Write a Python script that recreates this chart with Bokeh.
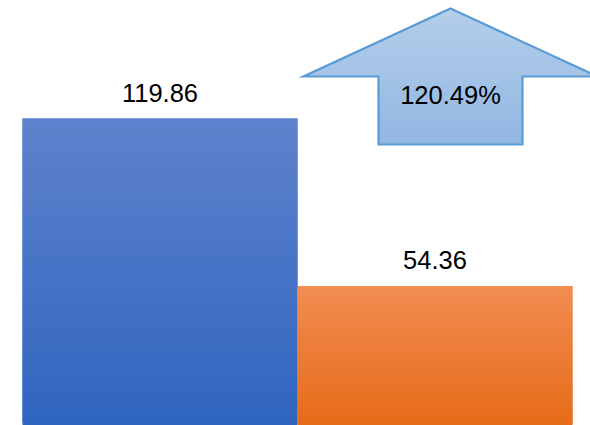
import numpy as np
from bokeh.plotting import figure
from bokeh.models import Range1d
from bokeh.embed import file_html
from bokeh.resources import INLINE
from bokeh.core.properties import value

# ---- data ----
categories = ["Before", "After"]
values = [119.86, 54.36]
value_labels = ["119.86", "54.36"]
change_label = "120.49%"

# ---- style ----
W, H = 590, 425
PX_X = 275.0                 # pixels per category unit
X_START = -159.5 / PX_X
PX_Y = 307.0 / 119.86
Y_MAX = H / PX_Y

bar_top_colors = [(94, 130, 204), (242, 140, 82)]
bar_bot_colors = [(47, 101, 191), (230, 107, 24)]
arrow_top = (180, 206, 235)
arrow_bot = (146, 183, 226)
arrow_line = "#5b9bd5"


def hexc(c):
    return "#%02x%02x%02x" % tuple(int(round(v)) for v in c)


def lerp(a, b, t):
    return tuple(a[i] + (b[i] - a[i]) * t for i in range(3))


p = figure(width=W, height=H, output_backend="svg", toolbar_location=None,
           x_range=Range1d(X_START, X_START + W / PX_X),
           y_range=Range1d(0, Y_MAX),
           x_axis_location=None, y_axis_location=None,
           min_border=0, outline_line_color=None,
           background_fill_color="white", border_fill_color="white")
p.grid.visible = False

# gradient bars
N = 80
for i, v in enumerate(values):
    lefts, rights, bots, tops, cols = [], [], [], [], []
    for k in range(N):
        yb = v * k / N
        yt = v * (k + 2) / N
        t = 1 - (k + 0.5) / N
        lefts.append(i - 0.5)
        rights.append(i + 0.5)
        bots.append(yb)
        tops.append(min(v, yt))
        cols.append(hexc(lerp(bar_top_colors[i], bar_bot_colors[i], t)))
    p.quad(left=lefts, right=rights, bottom=bots, top=tops,
           fill_color=cols, line_color=None)

# value labels
lab_y = [v + 26 / PX_Y for v in values]
p.text(x=list(range(len(values))), y=lab_y, text=value_labels,
       text_font=value("Liberation Sans"), text_font_size="25.5px",
       text_align="center", text_baseline="middle", text_color="#000000")

# arrow (decorative indicator of change)
cx = X_START + 450 / PX_X
tip_y = (H - 8) / PX_Y
wing_y = (H - 76) / PX_Y
base_y = (H - 144) / PX_Y
wing_hw = 147 / PX_X
body_hw = 72 / PX_X


def half_width(y):
    if y <= wing_y:
        return body_hw
    return wing_hw * (tip_y - y) / (tip_y - wing_y)


M = 60
step = (tip_y - base_y) / M
axs, ays, acols = [], [], []
for k in range(M):
    ya = base_y + step * k
    yb2 = min(tip_y, base_y + step * (k + 2))
    t = 1 - (k + 0.5) / M
    col = hexc(lerp(arrow_top, arrow_bot, t))
    if ya < wing_y < yb2:
        pts_x = [cx - body_hw, cx + body_hw, cx + body_hw, cx + wing_hw,
                 cx + half_width(yb2), cx - half_width(yb2), cx - wing_hw, cx - body_hw]
        pts_y = [ya, ya, wing_y, wing_y, yb2, yb2, wing_y, wing_y]
    else:
        ha = half_width(ya) if ya > wing_y else body_hw
        hb = half_width(yb2) if yb2 > wing_y else body_hw
        pts_x = [cx - ha, cx + ha, cx + hb, cx - hb]
        pts_y = [ya, ya, yb2, yb2]
    axs.append(pts_x)
    ays.append(pts_y)
    acols.append(col)
p.patches(xs=axs, ys=ays, fill_color=acols, line_color=None)

outline_x = [cx, cx + wing_hw, cx + body_hw, cx + body_hw,
             cx - body_hw, cx - body_hw, cx - wing_hw]
outline_y = [tip_y, wing_y, wing_y, base_y, base_y, wing_y, wing_y]
p.patch(x=outline_x, y=outline_y, fill_alpha=0, line_color=arrow_line,
        line_width=2.2, line_join="miter")

p.text(x=[cx], y=[(H - 94.5) / PX_Y], text=[change_label],
       text_font=value("Liberation Sans"), text_font_size="25.5px",
       text_align="center", text_baseline="middle", text_color="#000000")

open("out.html", "w").write(file_html(p, INLINE))
